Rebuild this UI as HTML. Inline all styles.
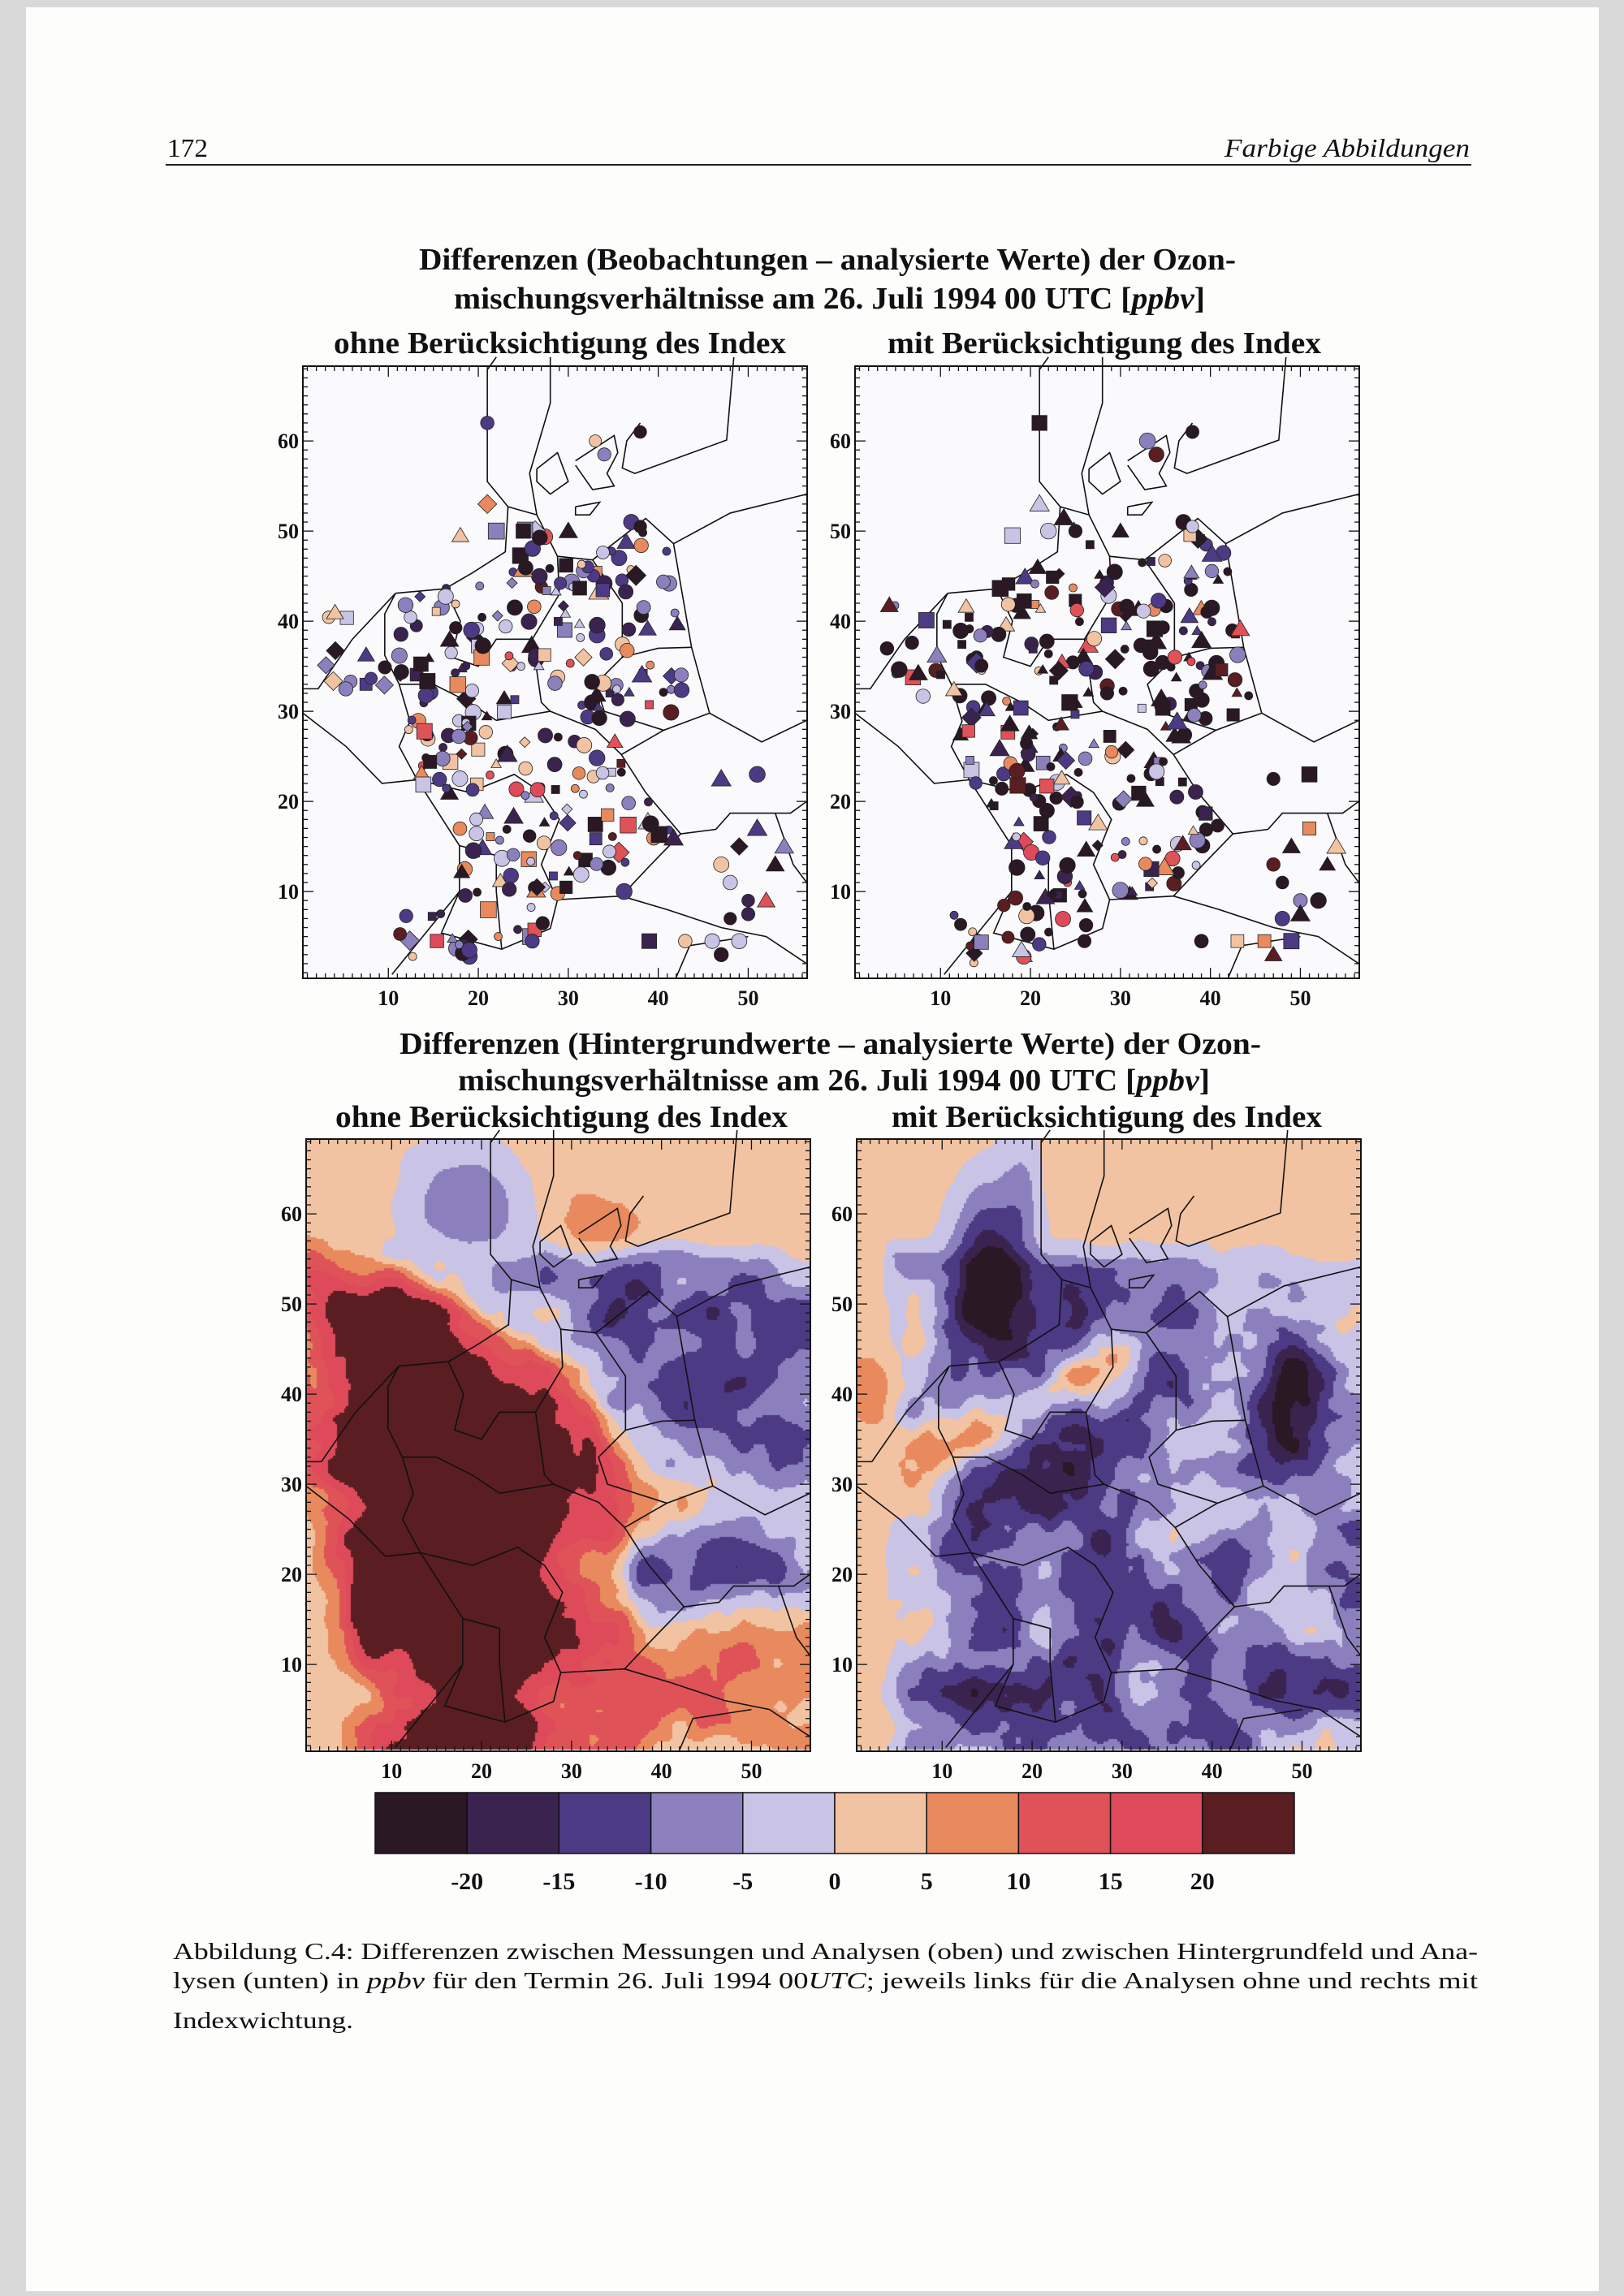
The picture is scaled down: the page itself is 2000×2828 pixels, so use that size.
<!DOCTYPE html>
<html><head><meta charset="utf-8"><style>
html,body{margin:0;padding:0;}
body{width:2000px;height:2828px;background:#d9d9d9;position:relative;overflow:hidden;}
#paper{position:absolute;left:32px;top:9px;width:1937px;height:2813px;background:#fdfdfc;}
canvas{position:absolute;}
#ov{position:absolute;left:0;top:0;}
text{font-family:"Liberation Serif",serif;fill:#111;}
</style></head><body>
<div id="paper"></div>
<canvas id="c1" width="621" height="752" style="left:377px;top:1403px"></canvas>
<canvas id="c2" width="621" height="752" style="left:1055px;top:1403px"></canvas>
<svg id="ov" width="2000" height="2828" xmlns="http://www.w3.org/2000/svg">
<text x="206" y="193" font-size="32" textLength="50" lengthAdjust="spacingAndGlyphs">172</text>
<text x="1508" y="193" font-size="32" font-style="italic" textLength="302" lengthAdjust="spacingAndGlyphs">Farbige Abbildungen</text>
<rect x="204" y="202" width="1608" height="2" fill="#222"/>
<g font-weight="bold" font-size="38">
<text x="516" y="332" textLength="1006" lengthAdjust="spacingAndGlyphs">Differenzen (Beobachtungen – analysierte Werte) der Ozon-</text>
<text x="559" y="380" textLength="925" lengthAdjust="spacingAndGlyphs">mischungsverhältnisse am 26. Juli 1994  00 UTC [<tspan font-style="italic">ppbv</tspan>]</text>
<text x="411" y="435" textLength="557" lengthAdjust="spacingAndGlyphs">ohne Berücksichtigung des Index</text>
<text x="1093" y="435" textLength="534" lengthAdjust="spacingAndGlyphs">mit Berücksichtigung des Index</text>
<text x="492" y="1298" textLength="1061" lengthAdjust="spacingAndGlyphs">Differenzen (Hintergrundwerte – analysierte Werte) der Ozon-</text>
<text x="564" y="1343" textLength="926" lengthAdjust="spacingAndGlyphs">mischungsverhältnisse am 26. Juli 1994  00 UTC [<tspan font-style="italic">ppbv</tspan>]</text>
<text x="413" y="1388" textLength="557" lengthAdjust="spacingAndGlyphs">ohne Berücksichtigung des Index</text>
<text x="1098" y="1388" textLength="530" lengthAdjust="spacingAndGlyphs">mit Berücksichtigung des Index</text>
</g>
<g id="maps"></g>
<g id="cbar"></g>
<g font-size="29">
<text x="213" y="2413" textLength="1607" lengthAdjust="spacingAndGlyphs">Abbildung C.4: Differenzen zwischen Messungen und Analysen (oben) und zwischen Hintergrundfeld und Ana-</text>
<text x="213" y="2449" textLength="1607" lengthAdjust="spacingAndGlyphs">lysen (unten) in <tspan font-style="italic">ppbv</tspan> für den Termin 26. Juli 1994 00<tspan font-style="italic">UTC</tspan>; jeweils links für die Analysen ohne und rechts mit</text>
<text x="213" y="2498" textLength="222" lengthAdjust="spacingAndGlyphs">Indexwichtung.</text>
</g>
</svg>
<script>
var NS="http://www.w3.org/2000/svg";
var COLS=["#2a1824","#3b2350","#4d3a85","#8b80bd","#c9c3e6","#f2c3a2","#e88a5e","#de5258","#df4a5a","#5a1e22"];
function el(tag,attrs,parent){var e=document.createElementNS(NS,tag);for(var k in attrs)e.setAttribute(k,attrs[k]);parent.appendChild(e);return e;}
function hash(i,j,s){var h=(i*374761393+j*668265263+s*1442695041)|0;h=Math.imul(h^(h>>>13),1274126177);return ((h^(h>>>16))>>>0)/4294967296;}
function vn(x,y,s){var i=Math.floor(x),j=Math.floor(y),fx=x-i,fy=y-j,u=fx*fx*(3-2*fx),v=fy*fy*(3-2*fy);
var a=hash(i,j,s),b=hash(i+1,j,s),c=hash(i,j+1,s),d=hash(i+1,j+1,s);return (a+(b-a)*u+(c-a)*v+(a-b-c+d)*u*v)*2-1;}
function fbm(x,y,s){return vn(x/7,y/7,s)*0.6+vn(x/3.5,y/3.5,s+7)*0.35+vn(x/1.7,y/1.7,s+13)*0.2;}
function interp(y,ys,xs){if(y<=ys[0])return xs[0];for(var i=1;i<ys.length;i++){if(y<=ys[i]){var t=(y-ys[i-1])/(ys[i]-ys[i-1]);return xs[i-1]+t*(xs[i]-xs[i-1]);}}return xs[xs.length-1];}
function sig(t){return 1/(1+Math.exp(-t));}
function gs(x,y,cx,cy,sx,sy){var dx=(x-cx)/sx,dy=(y-cy)/sy;return Math.exp(-(dx*dx+dy*dy)/2);}
function bin(v){var k=Math.floor((v+25)/5);return Math.max(0,Math.min(9,k));}
var SX=11.08,SY=11.1;
function P(ox,oy,x,y){return [ox+(x-0.5)*SX,oy+(68.3-y)*SY];}
function fieldL(x,y){var n=fbm(x,y,3)*10;
 var b=interp(y,[0,8,20,30,43,50,56],[60,42,36,37.6,30,18,8]);
 var red=(function(){var inner=Math.min((b-x)*0.65,x-0.5,(56-y)*0.8);
   if(y<14) inner=Math.min(inner,(9-Math.abs(x-20)*0.7)+(y<6?0:(y-6)*0.6));
   var v=9+Math.max(inner,0)*2.6+n*1.1;
   var pe=sig((5-x)/1)*sig((21-y)/1.5);return v*(1-pe)+(3+n*0.3)*pe;})();
 var e=x-b;
 var pur=-1-Math.min(e,12)*0.6+n*1.1-7*gs(x,y,47,40,4,5)-7*gs(x,y,41,21,4,3)-3*gs(x,y,36,48,3,3);
 var br=sig((15-y)/1.5)*sig((x-40)/1.5);pur=pur*(1-br)+(7+n)*br;
 var m=sig(-e/0.8);var main=red*m+pur*(1-m);
 var w=sig((y-56)/0.8);
 var top=3+n*0.15-12*gs(x,y,18.5,61,5,5)+7*gs(x,y,33,55,3.5,5);
 return (1-w)*main+w*top;}
function fieldR(x,y){var n=fbm(x,y,11)*10;
 var v=-8+n*1.3;
 v-=8*gs(x,y,15,55,2.5,6);
 var ax=6,ay=32,bx=30,by=44,dx=bx-ax,dy=by-ay,t=Math.max(0,Math.min(1,((x-ax)*dx+(y-ay)*dy)/(dx*dx+dy*dy)));
 var d=Math.hypot(x-ax-t*dx,y-ay-t*dy);v+=11*Math.exp(-d*d/8);
 v+=5*gs(x,y,34,50,4,3);
 v-=8*gs(x,y,42,12,5,4)+5*gs(x,y,22,30,5,3)+7*gs(x,y,48,40,4,7)+6*gs(x,y,16,14,3,3);
 var w=Math.max(sig((y-55)/1),sig((5-x)/0.8));
 var top=2.5+n*0.15-8*gs(x,y,19,62,1.5,5)+5*gs(x,y,2,40,2,3);
 v=v*(1-w)+top*w;
 v-=20*gs(x,y,15,55,2.6,6);
 return v;}
function heat(id,f){var c=document.getElementById(id).getContext("2d");var st=0.25;
 for(var x=0.5;x<57;x+=st)for(var y=0;y<69;y+=st){var v=f(x+st/2,y+st/2);c.fillStyle=COLS[bin(v)];
 var px=(x-0.5)*SX,py=(68.3-y-st)*SY;c.fillRect(Math.floor(px),Math.floor(py),Math.ceil(st*SX)+1,Math.ceil(st*SY)+1);}}
heat("c1",fieldL);heat("c2",fieldR);
var GER=[[10.8,43.1],[16.3,43.6],[19.4,45.4],[23,47.7],[23.3,52.7],[26.5,51.8],[28.8,47.2],[32.7,46.8],[38.6,51.4],[41.7,48.6],[42.9,41.7],[43.7,37.1],[45.7,29.8],[40.6,27.9],[35.9,25.2],[38.6,21],[42.5,16.4],[39,12.8],[35.9,9.5],[28.8,9.1],[28,5.9],[22.6,3.6],[15.9,5.4],[17.9,10],[17.9,15.1],[13.2,22.4],[11.2,26.1],[12.4,28.9],[11.2,33],[9.6,36.2],[9.6,40.8],[10.8,43.1]];
var LINES=[GER,
[[23.3,52.7],[21,55.5],[21,67.9],[22,69.3]],
[[26.5,51.8],[25.7,56.4],[28,64.2],[28,69.3]],
[[48.4,69.3],[47.6,60.1],[37.4,56.4],[36,57],[36.5,60],[38,62]],
[[30.8,57.8],[35.1,60.6],[35.5,58.7],[34.3,56.4],[35.1,55],[32.7,54.6],[30.8,57.3]],
[[26.5,56.9],[28.8,58.7],[30,55.5],[28,54.1],[26.5,55.5],[26.5,56.9]],
[[30.8,52.7],[33.5,53.2],[32.4,51.8],[30.8,51.8],[30.8,52.7]],
[[41.7,48.6],[48,52],[56.5,54.1]],
[[10.8,43.1],[6,38],[2.2,32.5],[0.5,32.5]],[[0.5,29.8],[5.3,26.1],[9.3,22],[13.2,22.4]],
[[45.7,29.8],[51.5,26.6],[56.5,29]],
[[42.5,16.4],[46.4,16.9],[48,18.7],[54.7,18.7],[56.5,20]],
[[35.9,9.5],[41,8],[47,6],[52,5],[56.5,2]],[[42,0.5],[43.5,4],[50,5]],
[[10.4,0.8],[13,4],[17.9,10]],
[[53,18.7],[55,13],[56.5,11]],
[[16.3,43.6],[18,40],[17,36],[20,35],[22,38],[26,38],[29,43],[28.8,47.2]],
[[11.2,33],[15,33],[19,31],[22,29],[28,30],[33,28],[35.9,25.2]],
[[32.7,46.8],[36,42],[36,36],[33,33],[34,30],[40.6,27.9]],
[[13.2,22.4],[19,21],[24,23],[27,21],[29,18],[27,13],[28.8,9.1]],
[[17.9,15.1],[22,14],[22,10],[22.6,3.6]],[[26,38],[27,31],[28,30]],[[36,36],[40,37],[43.7,37.1]]];
function inPoly(x,y,p){var c=false;for(var i=0,j=p.length-1;i<p.length;j=i++){var a=p[i],b=p[j];if(((a[1]>y)!=(b[1]>y))&&(x<(b[0]-a[0])*(y-a[1])/(b[1]-a[1])+a[0]))c=!c;}return c;}
function rng(s){return function(){s=(Math.imul(s,1664525)+1013904223)>>>0;return s/4294967296;};}
var maps=document.getElementById("maps");
function marker(ox,oy,x,y,ci,r,big){var p=P(ox,oy,x,y),sh=r(),sz=(!big&&r()<0.35)?5:7.5+r()*2.5,col=COLS[ci];var at={fill:col,stroke:"#222","stroke-width":0.8};
 if(sh<0.55){at.cx=p[0];at.cy=p[1];at.r=sz;el("circle",at,maps);}
 else if(sh<0.75){at.points=[p[0],p[1]-sz*1.2,p[0]-sz*1.25,p[1]+sz*0.9,p[0]+sz*1.25,p[1]+sz*0.9].join(" ");el("polygon",at,maps);}
 else if(sh<0.93){at.x=p[0]-sz;at.y=p[1]-sz;at.width=sz*2;at.height=sz*2;el("rect",at,maps);}
 else{at.points=[p[0],p[1]-sz*1.3,p[0]+sz*1.3,p[1],p[0],p[1]+sz*1.3,p[0]-sz*1.3,p[1]].join(" ");el("polygon",at,maps);}}
function pick(r,w){var rr=r(),acc=0;for(var k=0;k<10;k++){acc+=w[k];if(rr<acc)return k;}return 0;}
function frame(ox,oy,bg,weights,seed){
 if(bg) el("rect",{x:ox,y:oy,width:621,height:754,fill:bg},maps);
 var g=el("g",{fill:"none",stroke:"#111","stroke-width":1.6},maps);
 LINES.forEach(function(l){el("polyline",{points:l.map(function(p){return P(ox,oy,p[0],p[1]).join(",");}).join(" ")},g);});
 if(weights){var r=rng(seed);var cnt=0;
  while(cnt<300){var x=3+r()*44,y=2+r()*51;var ok=inPoly(x,y,GER)||(x<11&&x>2&&y>31&&y<42&&r()<0.7)||(x>11&&x<22&&y>2&&y<9);if(!ok)continue;cnt++;
   marker(ox,oy,x,y,pick(r,weights),r,false);}
  var extra=[[21,62],[33,60],[34,58.5],[38,61],[21,53],[18,49.5],[22,50],[25,50],[30,50],[37,51],[38,50.5],[47,22.5],[51,23],[51,17],[49,15],[54,15],[53,13],[47,13],[48,11],[50,9],[52,9],[48,7],[50,7.5],[43,4.5],[46,4.5],[47,3],[49,4.5],[39,4.5],[26,4.5],[19,3.5]];
  extra.forEach(function(e){marker(ox,oy,e[0],e[1],pick(r,weights),r,true);});}
 el("rect",{x:ox,y:oy,width:621,height:754,fill:"none",stroke:"#111","stroke-width":2},maps);
 var t=el("g",{stroke:"#111","stroke-width":1.3},maps);
 for(var x=1;x<=56;x++){var px=ox+(x-0.5)*SX,L=(x%10==0)?13:6;el("line",{x1:px,y1:oy,x2:px,y2:oy+L},t);el("line",{x1:px,y1:oy+754,x2:px,y2:oy+754-L},t);}
 for(var y=1;y<=68;y++){var py=oy+(68.3-y)*SY,L=(y%10==0)?13:6;el("line",{x1:ox,y1:py,x2:ox+L,y2:py},t);el("line",{x1:ox+621,y1:py,x2:ox+621-L,y2:py},t);}
 for(var v=10;v<=50;v+=10){var tx=el("text",{x:ox+(v-0.5)*SX,y:oy+787,"font-size":26,"font-weight":"bold","text-anchor":"middle"},maps);tx.textContent=v;}
 for(var v=10;v<=60;v+=10){var ty=el("text",{x:ox-5,y:oy+(68.3-v)*SY+9,"font-size":26,"font-weight":"bold","text-anchor":"end"},maps);ty.textContent=v;}
}
var wL=[0.2,0.14,0.12,0.14,0.1,0.1,0.08,0.06,0.02,0.04],wR=[0.42,0.14,0.1,0.07,0.05,0.06,0.04,0.06,0.01,0.05];
frame(373,451,"#fafafc",wL,7);
frame(1053,451,"#fafafc",wR,19);
frame(377,1403,null,null);
frame(1055,1403,null,null);
var cb=document.getElementById("cbar");
for(var i=0;i<10;i++){el("rect",{x:462+i*113.2,y:2208,width:113.2,height:75,fill:COLS[i],stroke:"#111","stroke-width":1.5},cb);}
var labs=["-20","-15","-10","-5","0","5","10","15","20"];
for(var i=0;i<9;i++){var t2=el("text",{x:462+(i+1)*113.2,y:2327,"font-size":30,"font-weight":"bold","text-anchor":"middle"},cb);t2.textContent=labs[i];}
</script>
</body></html>
